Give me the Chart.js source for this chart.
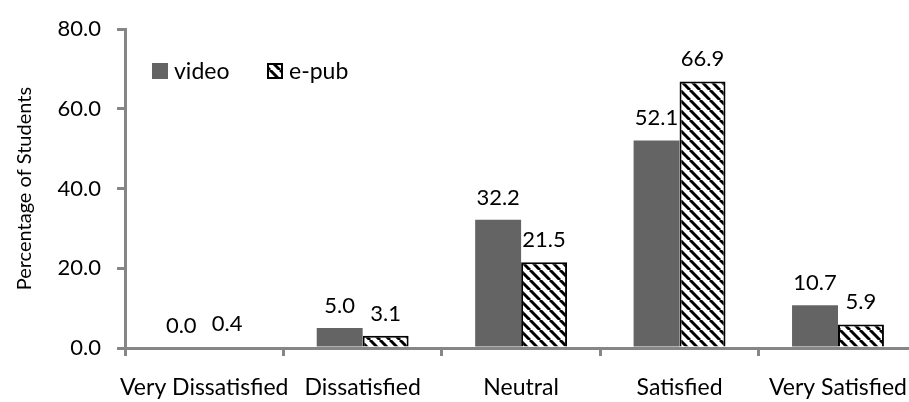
<!DOCTYPE html>
<html>
<head>
<meta charset="utf-8">
<script src="https://cdn.jsdelivr.net/npm/chart.js@4"></script>
<style>
  html, body { margin: 0; padding: 0; background: #fff; overflow: hidden; }
  /* the original plot runs a few pixels past the right edge, so the canvas is cut off */
  #wrap { width: 909px; height: 402px; overflow: hidden; position: relative; }
  #satChart { display: block; position: absolute; left: 0; top: 0; }
</style>
</head>
<body>
<div id="wrap"><canvas id="satChart" width="925" height="402" style="width:925px;height:402px"></canvas></div>
<script>
// data
const categories = ["Very Dissatisfied", "Dissatisfied", "Neutral", "Satisfied", "Very Satisfied"];
const videoValues = [0.0, 5.0, 32.2, 52.1, 10.7];
const epubValues = [0.4, 3.1, 21.5, 66.9, 5.9];
const yTicks = [0, 20, 40, 60, 80];

const FONT = "Lato, 'Open Sans', sans-serif";
const AXIS = "#868686";
const GREY = "#646464";

// white bar with black "\" stripes
function makeHatch() {
  const s = 10;
  const c = document.createElement("canvas");
  c.width = s; c.height = s;
  const g = c.getContext("2d");
  g.fillStyle = "#fff";
  g.fillRect(0, 0, s, s);
  g.strokeStyle = "#000";
  g.lineWidth = 3;
  for (let k = -1; k <= 1; k++) {
    g.beginPath();
    g.moveTo(k * s, 0);
    g.lineTo(k * s + s, s);
    g.stroke();
  }
  return g.createPattern(c, "repeat");
}
const hatch = makeHatch();

// value labels over each bar
const valueLabels = {
  id: "valueLabels",
  afterDatasetsDraw(chart) {
    const ctx = chart.ctx;
    ctx.save();
    ctx.font = "22px " + FONT;
    ctx.fillStyle = "#000";
    ctx.textAlign = "center";
    ctx.textBaseline = "alphabetic";
    chart.data.datasets.forEach((ds, i) => {
      chart.getDatasetMeta(i).data.forEach((bar, j) => {
        ctx.fillText(ds.data[j].toFixed(1), bar.x, bar.y - 15);
      });
    });
    ctx.restore();
  }
};

// legend inside the plot, top left
const innerLegend = {
  id: "innerLegend",
  afterDraw(chart) {
    const ctx = chart.ctx;
    const spots = [152, 267];
    const y = 63;
    ctx.save();
    ctx.font = "23px " + FONT;
    ctx.textBaseline = "middle";
    ctx.textAlign = "left";
    chart.data.datasets.forEach((ds, i) => {
      const x = spots[i];
      ctx.fillStyle = ds.backgroundColor;
      ctx.fillRect(x, y, 16, 16);
      if (ds.borderWidth) {
        ctx.strokeStyle = ds.borderColor;
        ctx.lineWidth = 2;
        ctx.strokeRect(x + 1, y + 1, 14, 14);
      }
      ctx.fillStyle = "#000";
      ctx.fillText(ds.label, x + 22, y + 9);
    });
    ctx.restore();
  }
};

new Chart(document.getElementById("satChart"), {
  type: "bar",
  data: {
    labels: categories,
    datasets: [
      {
        label: "video",
        data: videoValues,
        backgroundColor: GREY,
        borderWidth: 0,
      },
      {
        label: "e-pub",
        data: epubValues,
        backgroundColor: hatch,
        borderColor: "#000",
        borderWidth: 2,
        borderSkipped: "bottom",
      },
    ],
  },
  options: {
    responsive: false,
    animation: false,
    datasets: { bar: { barPercentage: 1.0, categoryPercentage: 0.58 } },
    layout: { padding: { top: 22, left: 0, right: 0, bottom: 0 } },
    plugins: {
      legend: { display: false },
      tooltip: { enabled: false },
    },
    scales: {
      x: {
        grid: { display: true, drawOnChartArea: false, offset: true, tickLength: 8, color: AXIS, lineWidth: 3 },
        border: { color: AXIS, width: 3 },
        ticks: { color: "#000", font: { family: FONT, size: 23 }, padding: 18, maxRotation: 0, autoSkip: false },
        afterFit(scale) { scale.height = 54; },
      },
      y: {
        min: 0,
        max: 80,
        afterBuildTicks(scale) { scale.ticks = yTicks.map(v => ({ value: v })); },
        grid: { display: true, drawOnChartArea: false, tickLength: 8, color: AXIS, lineWidth: 3 },
        border: { color: AXIS, width: 3 },
        ticks: {
          color: "#000",
          font: { family: FONT, size: 22 },
          padding: 16,
          callback: v => Number(v).toFixed(1),
        },
        title: {
          display: true,
          text: "Percentage of Students",
          color: "#000",
          font: { family: FONT, size: 20 },
          padding: { top: 13, bottom: 0 },
        },
        afterFit(scale) { scale.width = 125; },
      },
    },
  },
  plugins: [valueLabels, innerLegend],
});
</script>
</body>
</html>
